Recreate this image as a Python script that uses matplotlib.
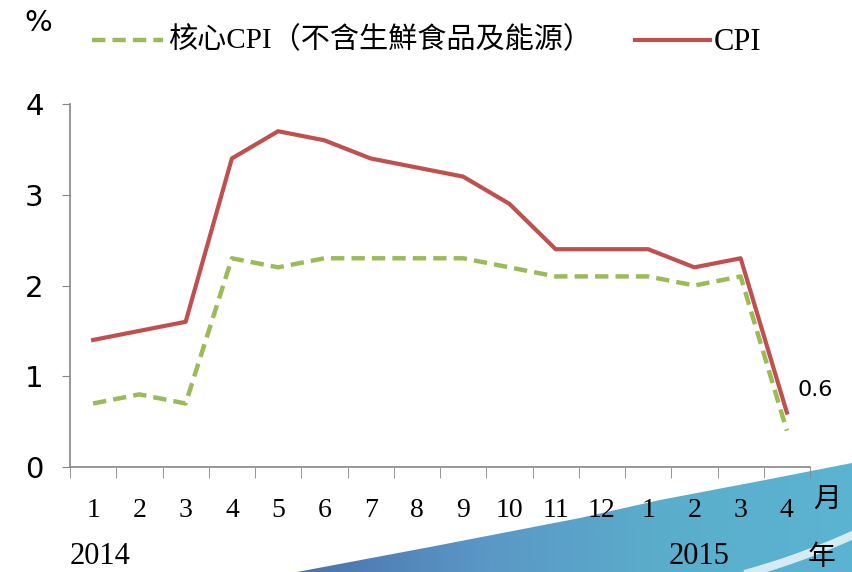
import numpy as np
import matplotlib.pyplot as plt
from matplotlib.patches import Polygon
from matplotlib.colors import LinearSegmentedColormap

# data
months = ['1', '2', '3', '4', '5', '6', '7', '8', '9', '10', '11', '12', '1', '2', '3', '4']
cpi = [1.4, 1.5, 1.6, 3.4, 3.7, 3.6, 3.4, 3.3, 3.2, 2.9, 2.4, 2.4, 2.4, 2.2, 2.3, 0.6]
core = [0.7, 0.8, 0.7, 2.3, 2.2, 2.3, 2.3, 2.3, 2.3, 2.2, 2.1, 2.1, 2.1, 2.0, 2.1, 0.4]
core_label = '核心CPI（不含生鮮食品及能源）'
cpi_label = 'CPI'

red = '#C0504D'
green = '#9BBB59'
grey = '#868686'
serif = ['Liberation Serif', 'Noto Sans CJK TC']

W, H = 852, 572
fig = plt.figure(figsize=(W / 100, H / 100), dpi=100)

# background swoosh (decoration only)
bg = fig.add_axes([0, 0, 1, 1], zorder=0)
grad = np.linspace(0, 1, 256).reshape(1, -1)
cm = LinearSegmentedColormap.from_list('sw', ['#4a72ab', '#5a97c6', '#5aaecb', '#5ab4d2'])
img = bg.imshow(grad, extent=[297, W, H, 440], cmap=cm, aspect='auto')
edge = [(297, 572), (430, 547), (580, 518), (660, 500), (760, 481), (852, 463)]
poly = Polygon(edge + [(852, 572)], closed=True, transform=bg.transData,
               facecolor='none', edgecolor='none')
bg.add_patch(poly)
img.set_clip_path(poly)
# white arc stripe
t = np.linspace(0, 1, 50)
bx = 745 + 110 * t
by = 574 - 30 * t - 10 * t ** 2
bg.plot(bx, by, color='white', lw=6, alpha=0.75, zorder=3)
bg.set_xlim(0, W)
bg.set_ylim(H, 0)
bg.axis('off')

ax = fig.add_axes([70 / W, 1 - 467 / H, 740 / W, (467 - 104) / H], zorder=1)
ax.patch.set_alpha(0)
x = np.arange(len(months))
ax.plot(x, core, color=green, lw=3.2, ls=(0, (3, 1.6)), solid_capstyle='butt')
ax.plot(x, cpi, color=red, lw=3)

ax.set_xlim(-0.5, len(months) - 0.5)
ax.set_ylim(0, 4)
ax.set_yticks([0, 1, 2, 3, 4])
ax.set_yticklabels(['0', '1', '2', '3', '4'], fontsize=21, family='DejaVu Sans')
ax.set_xticks(x)
ax.set_xticklabels(months, fontsize=20, family='Liberation Serif')
ax.set_xticks(np.arange(-0.5, len(months)), minor=True)
ax.tick_params(axis='x', which='major', length=0, pad=22)
ax.tick_params(axis='x', which='minor', length=8, color=grey, direction='out')
ax.tick_params(axis='y', length=6, color=grey, direction='out', pad=13)
for s in ['top', 'right']:
    ax.spines[s].set_visible(False)
for s in ['left', 'bottom']:
    ax.spines[s].set_color(grey)
    ax.spines[s].set_linewidth(1.2)

ax.annotate('0.6', (x[-1], cpi[-1]), xytext=(8, 16), textcoords='offset points',
            fontsize=16, family='DejaVu Sans', va='center')


def px(xp, yp):
    return xp / W, 1 - yp / H


fig.text(*px(24, 23), '%', fontsize=21, family='DejaVu Sans', va='center')
fig.text(*px(813, 500), '月', fontsize=20, family=serif, va='center')
fig.text(*px(808, 558), '年', fontsize=20, family=serif, va='center')
fig.text(*px(70, 557), '2014', fontsize=22, family=serif, va='center')
fig.text(*px(669, 557), '2015', fontsize=22, family=serif, va='center')

# legend
fig.add_artist(plt.Line2D([92 / W, 163 / W], [1 - 40 / H] * 2, color=green, lw=3.2,
                          ls=(0, (3, 1.6))))
fig.text(*px(168, 40), core_label, fontsize=21, family=serif, va='center')
fig.add_artist(plt.Line2D([635 / W, 710 / W], [1 - 40 / H] * 2, color=red, lw=3))
fig.text(*px(714, 42), cpi_label, fontsize=22, family=serif, va='center')

fig.savefig('out.png', dpi=100)
